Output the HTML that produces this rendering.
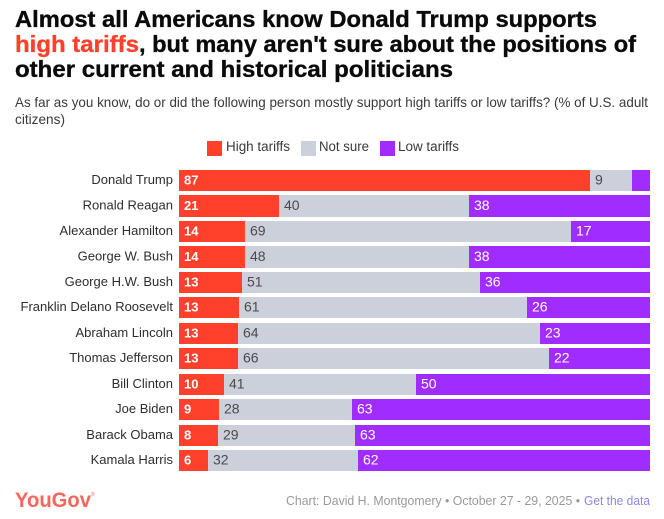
<!DOCTYPE html>
<html lang="en">
<head>
<meta charset="utf-8">
<title>Tariff positions chart</title>
<style>
html,body{margin:0;padding:0;background:#fff;width:664px;height:519px;overflow:hidden}
svg{display:block}
text{font-family:"Liberation Sans",sans-serif}
.title{font-size:23px;font-weight:700;fill:#0a0a0a;stroke:#0a0a0a;stroke-width:.35px}
.sub{font-size:14px;fill:#3a3a3a}
.leg{font-size:13.5px;fill:#3a3a3a}
.row{font-size:13px;fill:#2e2e2e}
.val{font-size:14px}
.val-bold{font-size:13px}
.foot{font-size:13px;fill:#999}
</style>
</head>
<body>
<svg id="chart" xmlns="http://www.w3.org/2000/svg" width="664" height="519" viewBox="0 0 664 519">
  <g>
    <text class="title" x="15" y="27" textLength="582" lengthAdjust="spacingAndGlyphs">Almost all Americans know Donald Trump supports</text>
    <text class="title" x="15" y="52" textLength="124" lengthAdjust="spacingAndGlyphs" style="fill:#ff412c;stroke:#ff412c">high tariffs</text>
    <text class="title" x="139" y="52" textLength="497" lengthAdjust="spacingAndGlyphs">, but many aren't sure about the positions of</text>
    <text class="title" x="15" y="77" textLength="438" lengthAdjust="spacingAndGlyphs">other current and historical politicians</text>
  </g>
  <g>
    <text class="sub" x="15" y="107" textLength="633" lengthAdjust="spacingAndGlyphs">As far as you know, do or did the following person mostly support high tariffs or low tariffs? (% of U.S. adult</text>
    <text class="sub" x="15" y="124" textLength="50" lengthAdjust="spacingAndGlyphs">citizens)</text>
  </g>
  <g>
    <g>
      <rect x="207" y="141" width="15" height="15" fill="#ff412c"/>
      <text class="leg" x="226" y="151" textLength="64" lengthAdjust="spacingAndGlyphs">High tariffs</text>
    </g>
    <g>
      <rect x="301" y="141" width="15" height="15" fill="#cbd0db"/>
      <text class="leg" x="319" y="151" textLength="50" lengthAdjust="spacingAndGlyphs">Not sure</text>
    </g>
    <g>
      <rect x="380" y="141" width="15" height="15" fill="#a02cff"/>
      <text class="leg" x="398" y="151" textLength="61" lengthAdjust="spacingAndGlyphs">Low tariffs</text>
    </g>
  </g>
  <g id="rows"></g>
  <text x="15" y="507" textLength="76" lengthAdjust="spacingAndGlyphs" style="font-size:21px;font-weight:700;fill:#f4675c">YouGov</text>
  <text x="91" y="496" style="font-size:5px;fill:#f4675c">®</text>
  <text class="foot" x="286" y="505" textLength="294" lengthAdjust="spacingAndGlyphs">Chart: David H. Montgomery • October 27 - 29, 2025 •</text>
  <text class="foot" x="584" y="505" textLength="66" lengthAdjust="spacingAndGlyphs" style="fill:#8f86e3">Get the data</text>
</svg>
<script>
const people = ["Donald Trump","Ronald Reagan","Alexander Hamilton","George W. Bush","George H.W. Bush","Franklin Delano Roosevelt","Abraham Lincoln","Thomas Jefferson","Bill Clinton","Joe Biden","Barack Obama","Kamala Harris"];
const highTariffs = [87.3,21.2,14.0,14.0,13.4,12.7,12.5,12.5,9.55,8.5,8.3,6.2];
const notSure = [8.9,40.4,69.2,47.6,50.5,61.2,64.1,66.1,40.7,28.2,29.0,31.8];
const lowTariffs = [3.8,38.4,16.8,38.4,36.1,26.1,23.4,21.5,49.75,63.3,62.7,62.0];

const NS = 'http://www.w3.org/2000/svg';
const rowsGroup = document.getElementById('rows');
const xScale = v => 179 + v * 4.71;
const yBand = i => 170 + i * 25.45;
const BAR_H = 21.2;

function svgEl(tag, attrs, parent) {
  const el = document.createElementNS(NS, tag);
  for (const k in attrs) el.setAttribute(k, attrs[k]);
  parent.appendChild(el);
  return el;
}

const seriesList = [
  {key: 'high', values: highTariffs, fill: '#ff412c', text: '#fff', weight: 700, cls: 'val-bold'},
  {key: 'not-sure', values: notSure, fill: '#cbd0db', text: '#4a4a4a', weight: 400, cls: 'val'},
  {key: 'low', values: lowTariffs, fill: '#a02cff', text: '#fff', weight: 400, cls: 'val'}
];

people.forEach((person, i) => {
  const slug = person.toLowerCase().replace(/[^a-z]+/g, '-');
  const row = svgEl('g', {}, rowsGroup);
  
  
  const top = Math.round(yBand(i));
  const bottom = Math.round(yBand(i) + BAR_H);
  const mid = (top + bottom) / 2;
  const label = svgEl('text', {class: 'row', x: 173, y: mid + 3.5, 'text-anchor': 'end'}, row);
  
  
  label.textContent = person;
  let cumulative = 0;
  seriesList.forEach(s => {
    const v = s.values[i];
    const x0 = Math.round(xScale(cumulative));
    cumulative += v;
    const x1 = Math.round(xScale(cumulative));
    const bar = svgEl('rect', {x: x0, y: top, width: x1 - x0, height: bottom - top, fill: s.fill, 'shape-rendering': 'crispEdges'}, row);
    
    
    if (v >= 5) {
      const t = svgEl('text', {class: s.cls, x: x0 + 5, y: mid + 4, fill: s.text, 'font-weight': s.weight}, row);
      
      
      t.textContent = Math.round(v);
    }
  });
});
</script>
</body>
</html>
